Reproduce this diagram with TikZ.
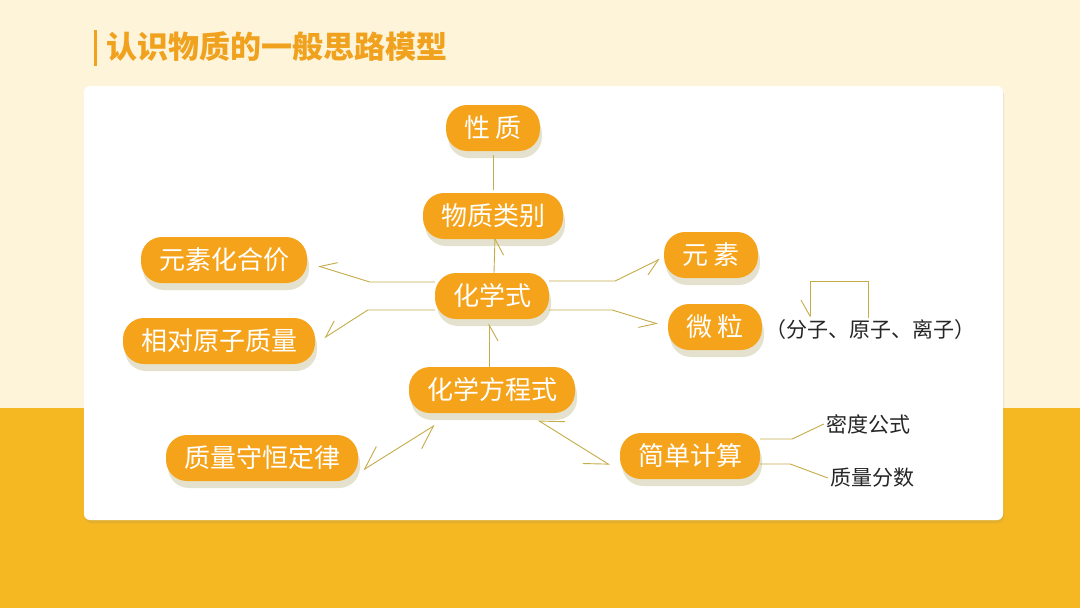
\documentclass[tikz,border=0pt]{standalone}
\usepackage{fontspec}
\newfontfamily\cjk{Noto Sans CJK SC}
\usetikzlibrary{arrows.meta, shadows, positioning}
\definecolor{cream}{RGB}{254,244,217}
\definecolor{band}{RGB}{245,184,35}
\definecolor{pillfill}{RGB}{245,163,26}
\definecolor{titleorange}{RGB}{240,162,30}
\definecolor{linkgold}{RGB}{196,172,72}
\definecolor{shade}{RGB}{150,140,60}
\tikzstyle{pill} = [rectangle, rounded corners=21pt, minimum height=46pt, inner xsep=18pt, text centered, fill=pillfill, text=white, font=\cjk\fontsize{26pt}{30pt}\selectfont, drop shadow={shadow xshift=2pt, shadow yshift=-7pt, fill=shade, opacity=0.25}]
\tikzstyle{note} = [inner sep=2pt, text=black!85, font=\cjk\fontsize{21pt}{25pt}\selectfont]
\tikzstyle{link} = [draw=linkgold, line width=0.9pt]
\tikzstyle{arrow} = [link, -{Straight Barb[harpoon, swap, length=16pt, width=18pt]}]
\tikzstyle{biarrow} = [link, {Straight Barb[harpoon, swap, length=22pt, width=26pt]}-{Straight Barb[harpoon, swap, length=22pt, width=26pt]}]

\begin{document}
\begin{tikzpicture}[x=1pt, y=-1pt]
\useasboundingbox (0,0) rectangle (1080,608);

% Background
\fill [cream] (0,0) rectangle (1080,408);
\fill [band] (0,408) rectangle (1080,608);
\fill [white, rounded corners=6pt, drop shadow={shadow xshift=1pt, shadow yshift=-3pt, opacity=0.15}] (84,86) rectangle (1003,520);

% Title
\draw [titleorange, line width=3pt] (95,30) -- (95,66);
\node (title) [anchor=west, text=titleorange, font=\cjk\bfseries\fontsize{31pt}{34pt}\selectfont] at (103,47) {认识物质的一般思路模型};

% Nodes
\node (prop) [pill] at (493,128) {性 质};
\node (class) [pill] at (493,216) {物质类别};
\node (valence) [pill] at (224,260) {元素化合价};
\node (formula) [pill] at (492,296) {化学式};
\node (mass) [pill] at (219,341) {相对原子质量};
\node (element) [pill] at (711,255) {元 素};
\node (particle) [pill] at (715,327) {微 粒};
\node (equation) [pill] at (492,390) {化学方程式};
\node (conserv) [pill] at (262,458) {质量守恒定律};
\node (calc) [pill] at (690,456) {简单计算};
\node (parts) [note] at (870,330) {（分子、原子、离子）};
\node (density) [note] at (868,424) {密度公式};
\node (fraction) [note] at (872,478) {质量分数};

% Arrows
\draw [link] ([yshift=-4pt]prop.south) -- ([yshift=3pt]class.north);
\draw [arrow] ([xshift=2pt]formula.north) -- ([xshift=2pt,yshift=2pt]class.south);
\draw [arrow] ([xshift=-3pt]equation.north) -- ([xshift=-3pt,yshift=-4pt]formula.south);
\draw [arrow] ([yshift=14pt]formula.west) -- ++(-65,0) -- ([xshift=11pt,yshift=-6pt]valence.east);
\draw [arrow] ([yshift=-14pt]formula.west) -- ++(-67,0) -- ([xshift=9pt,yshift=3pt]mass.east);
\draw [arrow] ([yshift=15pt]formula.east) -- ++(66,0) -- ([xshift=-4pt,yshift=-4pt]element.west);
\draw [arrow] ([yshift=-14pt]formula.east) -- ++(63,0) -- ([xshift=-10pt,yshift=3pt]particle.west);
\draw [biarrow] ([xshift=5pt,yshift=-12pt]conserv.east) -- ([xshift=26pt,yshift=-12pt]equation.south west);
\draw [biarrow] ([xshift=46pt,yshift=-7pt]equation.south) -- ([xshift=-10pt,yshift=-9pt]calc.west);
\draw [link] ([yshift=17pt]calc.east) -- ++(32,0) -- (density.west);
\draw [link] ([yshift=-8pt]calc.east) -- ++(30,0) -- (fraction.west);
\draw [arrow] ([xshift=-2pt]parts.north) -- ++(0,-36) -- ++(-58,0) -- ++(0,36);

\end{tikzpicture}
\end{document}
